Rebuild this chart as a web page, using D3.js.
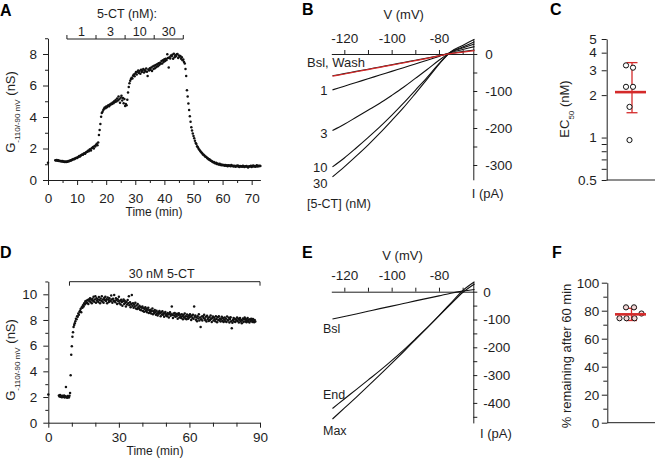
<!DOCTYPE html>
<html><head><meta charset="utf-8">
<script src="https://cdn.jsdelivr.net/npm/d3@7"></script>
<style>
body{margin:0;background:#fff;}
svg{display:block;}
</style></head><body>
<svg id="chart" width="656" height="465"></svg>
<script>
// ---------------- DATA ----------------
// Panel A: conductance time course (first sample at t=0, then every 0.25 min from 2.5 min)
const aFirst = {t: 0, g: 1.1};
const aStart = 2.5, aStep = 0.25;
const aG = [
1.26,1.24,1.27,1.22, 1.25,1.21,1.23,1.19, 1.2,1.17,1.21,1.16, 1.18,1.15,1.17,1.14, 1.18,1.16,1.2,1.19,
1.22,1.25,1.24,1.28, 1.3,1.33,1.31,1.36, 1.38,1.42,1.4,1.45, 1.47,1.52,1.5,1.56, 1.58,1.62,1.6,1.67,
1.7,1.66,1.75,1.78, 1.8,1.86,1.82,1.92, 1.95,1.88,2.02,2.05, 2.1,2.0,2.16,2.12, 2.22,2.3,2.2,2.38,
2.86,3.17,3.55,4.02, 4.25,4.34,4.45,4.52, 4.6,4.55,4.66,4.62, 4.7,4.75,4.68,4.8, 4.78,4.86,4.82,4.92,
4.88,5.0,4.95,5.08, 4.98,5.18,5.05,5.3, 5.12,4.9,5.22,5.35, 5.05,5.2,4.88,5.15, 4.7,4.82,4.75,5.1,
5.55,5.9,6.15,6.3, 6.42,6.5,6.45,6.62, 6.7,6.58,6.76,6.85, 6.7,6.88,6.95,6.8, 6.92,6.74,7.0,6.86,
6.95,7.05,6.82,6.98, 6.9,7.08,6.88,6.6, 7.02,6.95,7.1,7.0, 7.15,6.92,7.2,7.05, 7.25,7.1,7.3,7.18,
7.35,7.22,7.42,7.3, 7.45,7.38,7.55,7.4, 7.6,7.5,7.66,7.55, 7.7,7.62,7.98,7.75, 7.15,7.8,7.72,7.9,
7.85,7.95,7.7,8.02, 7.8,7.92,7.86,7.98, 8.0,7.75,7.9,7.82, 7.88,7.7,7.8,7.6, 7.65,7.5,7.4,7.05,
6.6,5.7,5.3,4.85, 4.45,4.05,3.7,3.35, 3.15,2.95,2.8,2.65, 2.5,2.35,2.28,2.15, 2.08,1.98,1.92,1.85,
1.8,1.74,1.7,1.62, 1.6,1.55,1.5,1.48, 1.44,1.38,1.36,1.3, 1.32,1.26,1.22,1.2, 1.16,1.12,1.15,1.08,
1.06,1.1,1.02,1.05, 1.0,0.98,1.03,0.96, 0.99,0.94,0.97,0.93, 0.95,0.91,0.96,0.9, 0.93,0.88,0.94,0.9,
0.92,0.87,0.95,0.89, 0.91,0.86,0.9,0.88, 0.84,0.9,0.87,0.92, 0.86,0.83,0.89,0.85, 0.88,0.84,0.9,0.86,
0.82,0.87,0.85,0.89, 0.84,0.8,0.86,0.88, 0.85,0.9,0.83,0.87, 0.92,0.86,0.89,0.84, 0.88,0.93,0.86,0.9,
0.87,0.91,0.89
];
const aConcLabels = ["1", "3", "10", "30"];
const aConcEdges = [6.5, 16.5, 26.5, 36.5, 46.5];   // minutes
const aXTicks = [0,10,20,30,40,50,60,70], aXMinor = [5,15,25,35,45,55,65];
const aYTicks = [0,2,4,6,8], aYMinor = [1,3,5,7,9];

// Panel B: I-V relations (pA at each voltage, mV)
const ivV = [-125,-120,-115,-110,-105,-100,-95,-90,-85,-80,-75,-70,-65];
const bBsl  = [-59,-53,-47,-41,-35,-29,-23,-17,-11,-4.5,2,6.5,11];
const bWash = [-60,-54,-48,-42,-36,-30,-24,-18,-12,-5,1,5,9];
const b1nM  = [-97,-87,-77,-67,-57,-47,-37,-27,-17,-6.5,4,12,20];
const b3nM  = [-207,-190,-171,-152,-133,-112,-90,-66,-42,-17,5,16,27];
const b10nM = [-305,-281,-254,-226,-197,-166,-133,-98,-63,-26,5,19,33];
const b30nM = [-332,-305,-276,-246,-214,-180,-145,-107,-68,-28,6,23,40];
const bLabels = ["Bsl, Wash", "1", "3", "10", "30"];
const bVTicks = [-120,-100,-80], bVMinor = [-110,-90,-70];
const bITicks = [0,-100,-200,-300], bIMinor = [-50,-150,-250];

// Panel C: EC50 values (nM)
const ec50 = [3.25, 3.13, 2.29, 2.29, 1.65, 0.96];
const ec50Mean = 2.1, ec50Hi = 3.4, ec50Lo = 1.5;
const cTicks = [0.5,1,2,3,4,5], cMinor = [0.6,0.7,0.8,0.9];

// Panel D: conductance, 30 nM 5-CT (first sample t=0, then every 0.25 min from 4.5 min)
const dFirst = {t: 0, g: 2.2};
const dStart = 4.5, dStep = 0.25;
const dG = [
2.12,2.05,2.15,2.02, 2.08,1.98,2.1,2.0, 2.04,2.12,1.96,2.06, 2.78,2.0,1.94,2.08, 2.02,1.97,2.1,2.32,
3.7,5.3,5.95,6.7, 7.05,7.45,7.6,7.75, 7.9,8.1,8.05,8.3, 8.25,8.5,8.4,8.65, 8.7,8.85,8.6,9.0,
8.95,9.15,9.05,9.3, 9.2,9.45,9.3,9.5, 9.35,9.55,9.25,9.6, 9.45,9.7,9.4,9.58, 9.3,9.65,9.5,9.8,
9.42,9.6,9.85,9.35, 9.7,9.5,9.62,9.4, 9.78,9.55,9.3,9.68, 9.5,9.85,9.42,9.6, 9.35,9.72,9.55,9.8,
9.48,9.62,9.3,9.75, 9.58,9.4,9.7,9.52, 9.45,9.9,9.6,9.35, 9.65,9.48,9.95,9.5, 9.38,9.7,9.55,9.25,
9.62,9.45,9.8,9.3, 9.5,9.2,9.58,9.4, 9.1,9.45,9.6,9.25, 9.5,9.35,9.05,9.42, 9.2,9.55,9.3,9.85,
9.15,9.38,9.0,9.25, 9.95,9.1,9.3,8.95, 9.2,9.05,9.35,8.9, 9.12,8.85,9.25,9.0, 8.9,9.1,8.8,9.02,
8.75,8.95,9.05,8.7, 8.92,8.65,8.85,9.0, 8.7,8.88,8.6,8.8, 8.95,8.55,8.75,8.62, 8.8,8.5,8.7,8.9,
8.45,8.68,8.55,8.78, 8.6,8.4,8.72,8.5, 8.35,8.62,8.48,8.7, 8.55,8.3,8.6,8.42, 8.68,8.4,8.52,8.25,
8.5,8.62,8.35,8.45, 8.3,8.55,8.42,8.2, 8.48,8.6,8.32,8.45, 9.05,8.38,8.15,8.5, 8.35,8.55,8.25,8.42,
8.3,8.48,8.1,8.38, 8.52,8.2,8.4,8.28, 8.15,8.45,8.3,8.05, 8.38,8.22,8.5,8.12, 8.3,8.05,8.42,8.25,
8.1,8.35,8.2,8.45, 8.28,8.0,8.32,8.15, 8.4,8.1,9.05,8.25, 8.35,8.02,8.2,7.9, 8.3,8.12,8.45,7.95,
8.2,7.45,8.05,8.28, 7.95,8.3,8.15,8.4, 8.1,7.98,8.25,7.88, 8.32,8.05,8.18,7.92, 8.22,8.0,8.35,8.1,
7.85,8.15,8.28,7.96, 8.2,8.05,7.9,8.3, 8.08,7.82,8.22,8.0, 8.3,7.95,8.12,7.88, 8.05,8.25,7.92,8.15,
7.85,8.02,8.2,7.9, 8.1,7.85,8.28,8.0, 7.95,8.18,7.8,8.08, 8.22,7.9,7.35,7.78, 8.0,8.15,7.88,8.1,
7.85,8.05,7.95,8.2, 7.92,8.1,7.8,8.02, 8.15,7.88,8.0,7.75, 7.95,8.12,7.85,8.05, 8.2,7.9,8.08,7.82,
7.98,8.15,7.88,8.02, 7.8,8.05,7.92,8.1, 7.95,7.85,8.08,7.9,
7.82,8.0,7.88
];
const dDrugStart = 9, dDrugEnd = 90, dDrugLabel = "30 nM 5-CT";
const dXTicks = [0,30,60,90], dXMinor = [10,20,40,50,70,80];
const dYTicks = [0,2,4,6,8,10], dYMinor = [1,3,5,7,9,11];

// Panel E: I-V relations
const eBsl = [-98,-89,-80,-70.5,-61,-52,-42.5,-33,-24,-15,-5.5,2,8];
const eEnd = [-420,-386,-352,-318,-284,-248,-210,-170,-129,-87,-45,-3,28];
const eMax = [-458,-419,-380,-340,-299,-258,-216,-173,-130,-86,-41,4,36];
const eLabels = ["Bsl", "End", "Max"];
const eITicks = [0,-100,-200,-300,-400], eIMinor = [-50,-150,-250,-350,-450];

// Panel F: % remaining after 60 min
const fVals = [82.4, 82.4, 78, 74.6, 74.6, 74.6];
const fMean = 77.4, fHi = 81.7, fLo = 73;
const fTicks = [0,20,40,60,80,100], fMinor = [10,30,50,70,90];

// scatter column offsets (layout only)
const cOffsets = [-4.5, 2.5, -4.5, 2.5, -1, -1];
const fOffsets = [-4.5, 3.5, 11, -11, -4, 4];

// ---------------- DRAWING ----------------
const svg = d3.select("#chart");
const FONT = '"Liberation Sans", Arial, Helvetica, sans-serif';
const INK = "#1e1e1e";
const RED = "#d42a2a";
svg.style("font-family", FONT);

function styleAxis(g, fs) {
  g.attr("font-family", FONT);
  g.selectAll("path.domain").attr("stroke", INK).attr("stroke-width", 1);
  g.selectAll(".tick line").attr("stroke", INK).attr("stroke-width", 1);
  g.selectAll(".tick text").attr("fill", INK).attr("font-size", fs);
}
function drawAxis(maker, scale, tr, major, minor, majLen, minLen, pad, fs) {
  const g = svg.append("g").attr("transform", tr);
  if (minor && minor.length) {
    const m = g.append("g").call(maker(scale).tickValues(minor).tickSize(minLen).tickFormat(""));
    m.select(".domain").remove();
    styleAxis(m, fs || 13.5);
  }
  const M = g.append("g").call(maker(scale).tickValues(major).tickSize(majLen)
      .tickSizeOuter(0).tickPadding(pad).tickFormat(d => String(d)));
  styleAxis(M, fs || 13.5);
  return M;
}
function text(x, y, s, opts = {}) {
  const t = svg.append("text").attr("x", x).attr("y", y).text(s)
    .attr("font-size", opts.fs || 13).attr("fill", INK)
    .attr("text-anchor", opts.anchor || "start");
  if (opts.bold) t.attr("font-weight", "bold");
  return t;
}
function gLabel(x, y, main, sub, tail) {
  const t = svg.append("text").attr("transform", `translate(${x},${y}) rotate(-90)`)
    .attr("text-anchor", "middle").attr("fill", INK).attr("font-size", 13);
  t.append("tspan").text(main);
  t.append("tspan").attr("font-size", 8).attr("baseline-shift", "sub").text(sub);
  t.append("tspan").text(tail);
}
function line(x1, y1, x2, y2, color, w) {
  svg.append("line").attr("x1", x1).attr("y1", y1).attr("x2", x2).attr("y2", y2)
    .attr("stroke", color || INK).attr("stroke-width", w || 1);
}

// Panel letters
[["A",0,16],["B",302,15],["C",550,15],["D",0,258],["E",302,258],["F",552,258]]
  .forEach(([s,x,y]) => text(x, y, s, {fs: 16, bold: true}).attr("fill", "#000"));

// ===== Panel A =====
const xA = d3.scaleLinear([0, 73], [48, 260.4]);
const yA = d3.scaleLinear([0, 9], [180, 38.25]);
drawAxis(d3.axisBottom, xA, "translate(0,180)", aXTicks, aXMinor, 5, 3, 8);
drawAxis(d3.axisLeft, yA, "translate(48,0)", aYTicks, aYMinor, 5, 3, 6);
const aPts = [aFirst].concat(aG.map((g, i) => ({t: aStart + i * aStep, g})));
svg.append("g").selectAll("circle").data(aPts).join("circle")
  .attr("cx", d => xA(d.t)).attr("cy", d => yA(d.g)).attr("r", 1.25).attr("fill", "#111");
text(154, 216, "Time (min)", {fs: 12, anchor: "middle"});
gLabel(15, 112, "G", "-110/-90 mV", " (nS)");
// concentration bar
const barYA = 39;
line(xA(aConcEdges[0]), barYA, xA(aConcEdges[aConcEdges.length - 1]), barYA);
aConcEdges.forEach(e => line(xA(e), barYA, xA(e), barYA - 4));
aConcLabels.forEach((s, i) => text(xA((aConcEdges[i] + aConcEdges[i + 1]) / 2), 36, s, {fs: 12.5, anchor: "middle"}));
text(127, 17.5, "5-CT (nM):", {fs: 12.5, anchor: "middle"});

// ===== Panel B =====
const xB = d3.scaleLinear([-125.5, -65.5], [331.3, 473.3]);
const yB = d3.scaleLinear([40, -340], [39.2, 179.8]);
drawAxis(d3.axisTop, xB, `translate(0,${yB(0)})`, bVTicks, bVMinor, 4, 4, 7);
drawAxis(d3.axisRight, yB, `translate(${xB(-65.5)},0)`, bITicks, bIMinor, 4, 4, 8);
const lineB = d3.line().x((d, i) => xB(ivV[i])).y(d => yB(d)).curve(d3.curveMonotoneX);
[bBsl, b1nM, b3nM, b10nM, b30nM].forEach(arr =>
  svg.append("path").attr("d", lineB(arr)).attr("fill", "none").attr("stroke", "#111").attr("stroke-width", 1.1));
svg.append("path").attr("d", lineB(bWash)).attr("fill", "none").attr("stroke", RED).attr("stroke-width", 1.2);
text(365, 67, bLabels[0], {fs: 13, anchor: "end"});
text(327.5, 94.5, bLabels[1], {fs: 13, anchor: "end"});
text(327.5, 138, bLabels[2], {fs: 13, anchor: "end"});
text(327.5, 172, bLabels[3], {fs: 13, anchor: "end"});
text(327.5, 188, bLabels[4], {fs: 13, anchor: "end"});
text(307, 208, "[5-CT] (nM)", {fs: 12.5});
text(403.7, 19, "V (mV)", {fs: 13, anchor: "middle"});
text(471.7, 198, "I (pA)", {fs: 13});

// ===== Panel C =====
const yC = d3.scaleLog([0.5, 5], [180, 39]);
drawAxis(d3.axisLeft, yC, "translate(606.7,0)", cTicks, cMinor, 5, 5, 5);
line(606.7, 180, 655, 180);
const cX = 630.5;
line(cX + 1.5, yC(ec50Hi), cX + 1.5, yC(ec50Lo), RED, 1.3);
line(cX - 4, yC(ec50Hi), cX + 7, yC(ec50Hi), RED, 1.3);
line(cX - 4, yC(ec50Lo), cX + 7, yC(ec50Lo), RED, 1.3);
svg.append("g").selectAll("circle").data(ec50).join("circle")
  .attr("cx", (d, i) => cX + cOffsets[i]).attr("cy", d => yC(d)).attr("r", 2.6)
  .attr("fill", "#fff").attr("stroke", "#111").attr("stroke-width", 1);
line(615, yC(ec50Mean), 646, yC(ec50Mean), RED, 2.6);
gLabel(569, 109, "EC", "50", " (nM)");

// ===== Panel D =====
const xD = d3.scaleLinear([0, 90], [48.3, 260]);
const yD = d3.scaleLinear([0, 11], [422.7, 281.46]);
drawAxis(d3.axisBottom, xD, "translate(0,422.7)", dXTicks, dXMinor, 5, 4, 4.5);
drawAxis(d3.axisLeft, yD, "translate(48.3,0)", dYTicks, dYMinor, 5, 3, 6);
const dPts = [dFirst].concat(dG.map((g, i) => ({t: dStart + i * dStep, g})));
svg.append("g").selectAll("circle").data(dPts).join("circle")
  .attr("cx", d => xD(d.t)).attr("cy", d => yD(d.g)).attr("r", 1.25).attr("fill", "#111");
text(155, 455, "Time (min)", {fs: 12, anchor: "middle"});
gLabel(15, 360, "G", "-110/-90 mV", " (nS)");
const barYD = 281.7;
line(xD(dDrugStart), barYD, xD(dDrugEnd), barYD);
line(xD(dDrugStart), barYD, xD(dDrugStart), barYD + 4);
line(xD(dDrugEnd), barYD, xD(dDrugEnd), barYD + 4);
text(161.7, 278, dDrugLabel, {fs: 12.5, anchor: "middle"});

// ===== Panel E =====
const xE = d3.scaleLinear([-125.5, -65.5], [331.3, 473.3]);
const yE = d3.scaleLinear([35, -472], [291.7 - 35 * 0.278, 291.7 + 472 * 0.278]);
drawAxis(d3.axisTop, xE, `translate(0,${yE(0)})`, bVTicks, bVMinor, 4, 4, 7.5);
drawAxis(d3.axisRight, yE, `translate(${xE(-65.5)},0)`, eITicks, eIMinor, 4, 4, 6);
const lineE = d3.line().x((d, i) => xE(ivV[i])).y(d => yE(d)).curve(d3.curveMonotoneX);
[eBsl, eEnd, eMax].forEach(arr =>
  svg.append("path").attr("d", lineE(arr)).attr("fill", "none").attr("stroke", "#111").attr("stroke-width", 1.1));
text(323, 333, eLabels[0], {fs: 12.5});
text(323, 399, eLabels[1], {fs: 12.5});
text(323, 435, eLabels[2], {fs: 12.5});
text(402.5, 259.5, "V (mV)", {fs: 13, anchor: "middle"});
text(480, 438, "I (pA)", {fs: 13});

// ===== Panel F =====
const yF = d3.scaleLinear([0, 100], [422.7, 282.7]);
drawAxis(d3.axisLeft, yF, "translate(607.3,0)", fTicks, fMinor, 5.5, 4, 2.5);
line(607.3, 422.7, 655, 422.7);
const fX = 630.5;
line(fX + 1, yF(fHi), fX + 1, yF(fLo), RED, 1.3);
line(fX - 4.5, yF(fHi), fX + 6.5, yF(fHi), RED, 1.3);
line(fX - 4.5, yF(fLo), fX + 6.5, yF(fLo), RED, 1.3);
svg.append("g").selectAll("circle").data(fVals).join("circle")
  .attr("cx", (d, i) => fX + fOffsets[i]).attr("cy", d => yF(d)).attr("r", 2.6)
  .attr("fill", "#f3d6d6").attr("stroke", "#111").attr("stroke-width", 1);
line(615, yF(fMean), 646, yF(fMean), RED, 2.6);
svg.append("text").attr("transform", "translate(571,356) rotate(-90)")
  .attr("text-anchor", "middle").attr("font-size", 13).attr("fill", INK)
  .text("% remaining after 60 min");
</script>
</body></html>
